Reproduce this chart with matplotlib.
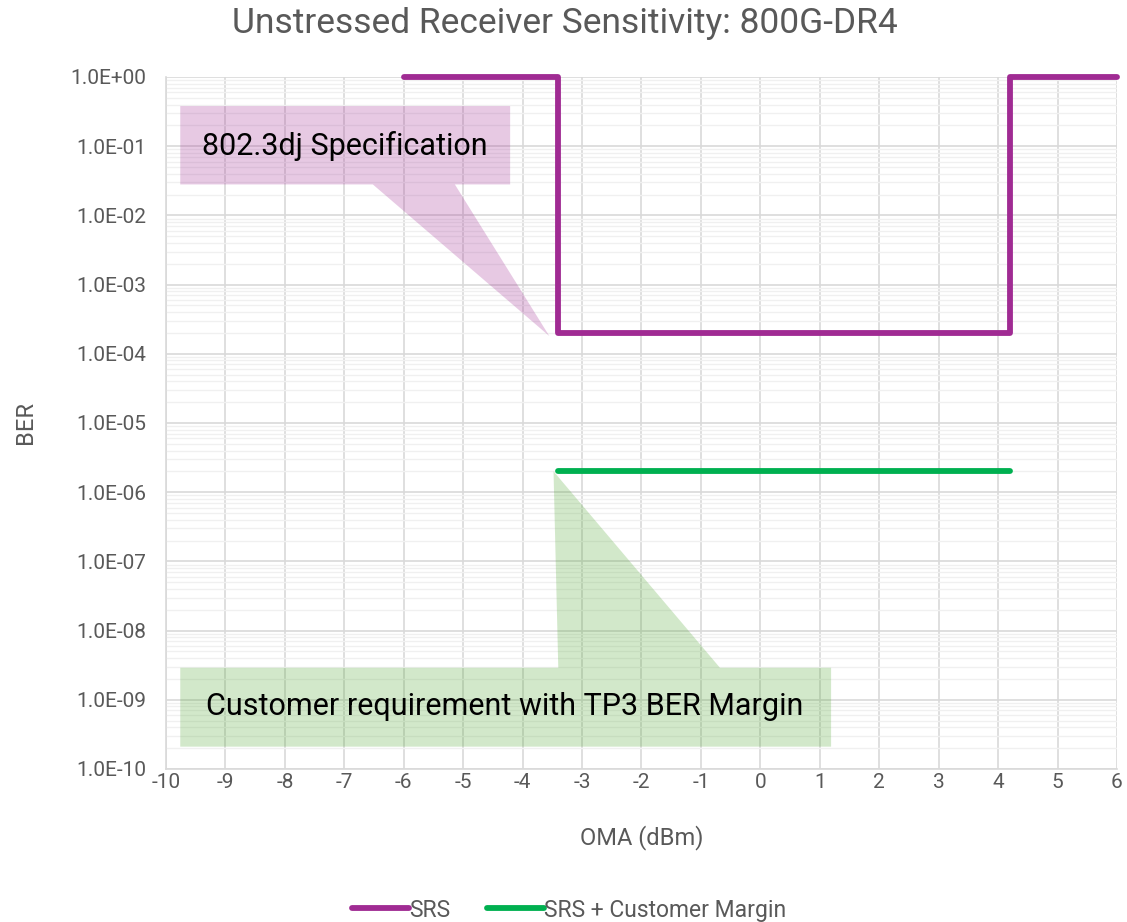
import matplotlib
matplotlib.use("Agg")
import matplotlib.pyplot as plt
from matplotlib.patches import Polygon
from matplotlib.ticker import FixedLocator, LogLocator, FuncFormatter, NullFormatter
import numpy as np

plt.rcParams['font.family'] = ['Roboto', 'DejaVu Sans']
plt.rcParams['axes.unicode_minus'] = False

# Data
srs_x = [-6, -3.4, -3.4, 4.2, 4.2, 6]
srs_y = [1.0, 1.0, 2e-4, 2e-4, 1.0, 1.0]
margin_x = [-3.4, 4.2]
margin_y = [2e-6, 2e-6]
x_ticks = list(range(-10, 7))
y_ticks = [10.0 ** e for e in range(-10, 1)]

title = "Unstressed Receiver Sensitivity: 800G-DR4"
spec_label = "802.3dj Specification"
cust_label = "Customer requirement with TP3 BER Margin"

purple = "#A02B93"
green = "#00B050"
callout_green = "#4EA72E"
gray_text = "#595959"

fig = plt.figure(figsize=(11.27, 9.22), dpi=100)
ax = fig.add_axes([0.1473, 0.166, 0.9911 - 0.1473, 0.9165 - 0.166])
ax.set_yscale('log')
ax.set_xlim(-10, 6)
ax.set_ylim(1e-10, 1)

ax.xaxis.set_major_locator(FixedLocator(x_ticks))
ax.yaxis.set_major_locator(FixedLocator(y_ticks))
ax.yaxis.set_minor_locator(LogLocator(base=10, subs=np.arange(2, 10), numticks=100))
ax.yaxis.set_minor_formatter(NullFormatter())

def fmt(v, pos):
    e = int(round(np.log10(v)))
    sign = '+' if e >= 0 else '-'
    return "1.0E%s%02d" % (sign, abs(e))
ax.yaxis.set_major_formatter(FuncFormatter(fmt))

ax.grid(True, which='major', axis='both', color='#D9D9D9', lw=1.2, zorder=0)
ax.grid(True, which='minor', axis='y', color='#F0F0F0', lw=1.0, zorder=0)
ax.set_axisbelow(True)
for s in ['top', 'right']:
    ax.spines[s].set_visible(False)
ax.spines['left'].set_color('#D9D9D9')
ax.spines['bottom'].set_color('#D9D9D9')
ax.spines['left'].set_linewidth(1.2)
ax.spines['bottom'].set_linewidth(1.2)
ax.tick_params(axis='both', which='both', length=0, labelsize=15, colors=gray_text)
ax.tick_params(axis='y', pad=14)
ax.tick_params(axis='x', pad=3)

# Callouts
spec_poly = [(-9.76, 0.38), (-4.21, 0.38), (-4.21, 0.028), (-5.14, 0.028),
             (-3.55, 1.8e-4), (-6.52, 0.028), (-9.76, 0.028)]
ax.add_patch(Polygon(spec_poly, closed=True, facecolor=purple, alpha=0.25,
                     edgecolor='none', zorder=2))
cust_poly = [(-9.76, 2.9e-9), (-3.40, 2.9e-9), (-3.48, 2e-6), (-0.68, 2.9e-9),
             (1.19, 2.9e-9), (1.19, 2.1e-10), (-9.76, 2.1e-10)]
ax.add_patch(Polygon(cust_poly, closed=True, facecolor=callout_green, alpha=0.25,
                     edgecolor='none', zorder=2))
ax.text(-6.99, 0.1, spec_label, ha='center', va='center', fontsize=22, color='black', zorder=3)
ax.text(-4.30, 7.9e-10, cust_label, ha='center', va='center', fontsize=22, color='black', zorder=3)

l1, = ax.plot(srs_x, srs_y, color=purple, lw=4.2, solid_capstyle='round',
              solid_joinstyle='round', zorder=4, clip_on=False, label='SRS')
l2, = ax.plot(margin_x, margin_y, color=green, lw=4.2, solid_capstyle='round',
              zorder=4, clip_on=False, label='SRS + Customer Margin')

fig.text(0.501, 0.974, title, ha='center', va='center', fontsize=25.5, color=gray_text)
ax.set_xlabel("OMA (dBm)", fontsize=17, color=gray_text, labelpad=24)
ax.set_ylabel("BER", fontsize=17, color=gray_text, labelpad=24)

fig.legend(handles=[l1, l2], loc='center', bbox_to_anchor=(0.505, 0.013), ncol=2,
           frameon=False, fontsize=16.5, handlelength=2.5, handletextpad=0.0,
           columnspacing=1.6, labelcolor=gray_text)

fig.savefig("out.png", dpi=100)
